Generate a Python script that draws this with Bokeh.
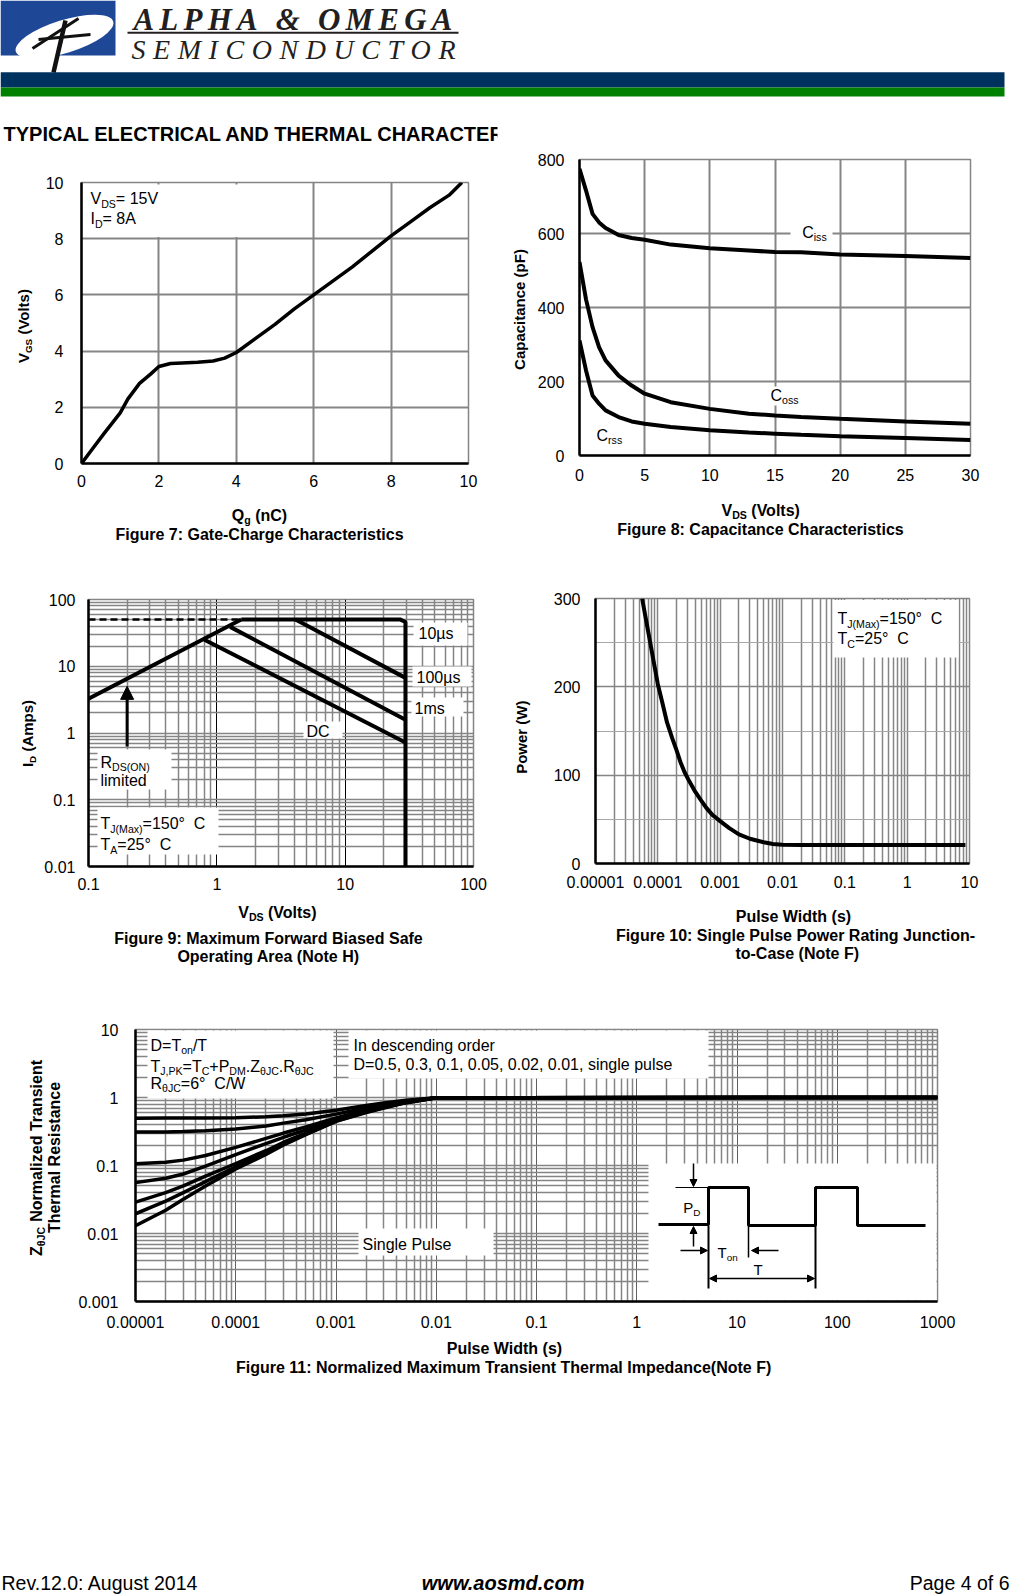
from bokeh.plotting import figure
from bokeh.layouts import column, row
from bokeh.models import (Range1d, LinearScale, Label, Arrow, NormalHead,
                          FixedTicker, CustomJSTickFormatter)
from bokeh.embed import file_html
from bokeh.resources import INLINE
from bokeh.core.properties import value

FONT = "Liberation Sans"
SERIF = "Liberation Serif"
GRID = "#858585"
BASE_CORR = 0.31   # shift between requested and drawn alphabetic baseline (em)

# ---------------- data ----------------
# Figure 7: gate charge
qg_nc = [0, 0.3, 0.6, 1.0, 1.2, 1.5, 1.8, 2.0, 2.3, 2.6, 3.0, 3.4, 3.7, 4.0,
         4.5, 5.0, 5.5, 6.0, 6.5, 7.0, 7.5, 8.0, 8.5, 9.0, 9.5, 9.83]
vgs_volts = [0, 0.55, 1.1, 1.8, 2.3, 2.85, 3.2, 3.45, 3.56, 3.58, 3.6, 3.65, 3.75, 3.95,
             4.45, 4.95, 5.5, 6.0, 6.5, 7.0, 7.55, 8.1, 8.6, 9.1, 9.55, 10.0]
fig7_xticks = [0, 2, 4, 6, 8, 10]
fig7_yticks = [0, 2, 4, 6, 8, 10]

# Figure 8: capacitance
vds_cap = [0, 0.5, 1, 1.5, 2, 3, 4, 5, 7, 10, 13, 15, 17, 20, 25, 30]
ciss_pf = [775, 716, 653, 630, 615, 596, 588, 583, 570, 560, 554, 550, 549, 543, 539, 534]
coss_pf = [523, 422, 347, 293, 257, 216, 189, 167, 144, 126, 113, 108, 104, 99, 92, 86]
crss_pf = [311, 230, 162, 140, 122, 104, 92, 86, 77, 68, 62, 59, 56, 52, 47, 42]
fig8_xticks = [0, 5, 10, 15, 20, 25, 30]
fig8_yticks = [0, 200, 400, 600, 800]

# Figure 9: safe operating area
rds_vds = [0.1, 1.55]
rds_id = [3.27, 50]
limit_vds = [1.55, 27, 29.5, 29.5]
limit_id = [50, 50, 46, 0.01]
dash_vds = [0.1, 1.55]
dash_id = [50, 50]
us10_vds = [4.1, 29.5]
us10_id = [50, 6.7]
us100_vds = [1.27, 29.5]
us100_id = [38.9, 1.58]
ms1_vds = [0.8, 29.5]
ms1_id = [25, 0.72]
arrow_vds = 0.2
arrow_id = [0.63, 5.0]
fig9_xticks = [0.1, 1, 10, 100]
fig9_yticks = [0.01, 0.1, 1, 10, 100]

# Figure 10: single pulse power
tp_s = [5.6e-5, 6.5e-5, 7.2e-5, 8.5e-5, 1e-4, 1.2e-4, 1.4e-4, 1.7e-4, 2e-4, 2.3e-4, 2.7e-4,
        3.2e-4, 4e-4, 5e-4, 6e-4, 7.5e-4, 1e-3, 1.4e-3, 2e-3, 3e-3, 5e-3, 7e-3, 1e-2, 2e-2,
        0.1, 1, 8.6]
power_w = [300, 275, 258, 230, 203, 180, 160, 142, 128, 115, 103,
           93, 81, 71, 63, 55, 48, 40, 33, 28, 24, 22, 21.2, 21,
           21, 21, 21]
fig10_xticks = [1e-5, 1e-4, 1e-3, 1e-2, 0.1, 1, 10]
fig10_yticks = [0, 100, 200, 300]
fig10_yminor = [50, 150, 250]

# Figure 11: transient thermal impedance
zth_t = [1e-5, 2e-5, 3e-5, 5e-5, 1e-4, 2e-4, 3e-4, 5e-4, 1e-3, 2e-3, 3e-3, 5e-3, 1e-2, 1e3]
zth_d05 = [0.497, 0.498, 0.499, 0.5, 0.505, 0.52, 0.54, 0.57, 0.65, 0.76, 0.83, 0.91, 0.99, 1.0]
zth_d03 = [0.31, 0.31, 0.315, 0.325, 0.345, 0.38, 0.42, 0.47, 0.57, 0.7, 0.78, 0.88, 0.99, 1.0]
zth_d01 = [0.106, 0.112, 0.12, 0.14, 0.185, 0.25, 0.3, 0.37, 0.5, 0.65, 0.74, 0.86, 0.99, 1.0]
zth_d005 = [0.056, 0.065, 0.075, 0.098, 0.145, 0.21, 0.26, 0.335, 0.48, 0.63, 0.73, 0.85, 0.99, 1.0]
zth_d002 = [0.029, 0.04, 0.05, 0.07, 0.107, 0.165, 0.22, 0.3, 0.46, 0.62, 0.72, 0.85, 0.99, 1.0]
zth_d001 = [0.0195, 0.03, 0.04, 0.058, 0.096, 0.152, 0.205, 0.29, 0.45, 0.61, 0.71, 0.84, 0.99, 1.0]
zth_single = [0.013, 0.022, 0.032, 0.05, 0.089, 0.145, 0.2, 0.285, 0.445, 0.6, 0.7, 0.84, 0.99, 1.0]
fig11_xticks = [1e-5, 1e-4, 1e-3, 1e-2, 0.1, 1, 10, 100, 1000]
fig11_yticks = [0.001, 0.01, 0.1, 1, 10]

# ---------------- font metrics (Arial-compatible, per 1000 em) ----------------
_chars = " !\"#$%&'()*+,-./0123456789:;<=>?@ABCDEFGHIJKLMNOPQRSTUVWXYZ[\\]^_`abcdefghijklmnopqrstuvwxyz{|}~"
_reg = [278, 278, 355, 556, 556, 889, 667, 191, 333, 333, 389, 584, 278, 333, 278, 278] + [556] * 10 + \
       [278, 278, 584, 584, 584, 556, 1015, 667, 667, 722, 722, 667, 611, 778, 722, 278, 500, 667, 556, 833,
        722, 778, 667, 778, 722, 667, 611, 722, 667, 944, 667, 667, 611, 278, 278, 278, 469, 556, 333,
        556, 556, 500, 556, 556, 278, 556, 556, 222, 222, 500, 222, 833, 556, 556, 556, 556, 333, 500,
        278, 556, 500, 722, 500, 500, 500, 334, 260, 334, 584]
_bold = [278, 333, 474, 556, 556, 889, 722, 238, 333, 333, 389, 584, 278, 333, 278, 278] + [556] * 10 + \
        [333, 333, 584, 584, 584, 611, 975, 722, 722, 722, 722, 667, 611, 778, 722, 278, 556, 722, 611, 833,
         722, 778, 667, 778, 722, 667, 611, 722, 667, 944, 667, 667, 611, 333, 278, 333, 584, 556, 333,
         556, 611, 556, 611, 556, 333, 611, 611, 278, 278, 556, 278, 889, 611, 611, 611, 611, 389, 556,
         333, 611, 556, 778, 556, 556, 500, 389, 280, 389, 584]
AR = dict(zip(_chars, _reg))
ARB = dict(zip(_chars, _bold))
AR.update({"\u00b0": 400, "\u03b8": 556, "\u00b5": 556, "\u00a0": 278})
ARB.update({"\u00b0": 400, "\u03b8": 611, "\u00b5": 611, "\u00a0": 278})


def tw(s, size, bold=False):
    t = ARB if bold else AR
    return sum(t.get(c, 556) for c in s) * size / 1000.0


def nb(t):
    # keep leading / trailing blanks visible in the SVG text
    if t.startswith(" "):
        t = "\u00a0" + t[1:]
    if t.endswith(" "):
        t = t[:-1] + "\u00a0"
    return t


def rich(p, x, y, parts, size=16, bold=False, italic=False, align="left",
         angle=0.0, rn="px", color="black", sub=0.66):
    items = []
    for seg in parts:
        t, k = (seg, "n") if isinstance(seg, str) else seg
        s = size * sub if k == "s" else size
        items.append((nb(t), k, s, tw(t, s, bold)))
    total = sum(i[3] for i in items)
    pos = {"left": 0.0, "center": -total / 2.0, "right": -total}[align]
    style = (("bold " if bold else "") + ("italic" if italic else "")).strip() or "normal"
    for t, k, s, w in items:
        d = (0.2 * size if k == "s" else 0.0) - BASE_CORR * s
        if angle:
            lx, ly = x + d, y - pos
        else:
            lx, ly = x + pos, y + d
        p.add_layout(Label(x=lx, y=ly, text=t, x_range_name=rn, y_range_name=rn,
                           text_font=FONT, text_font_size=f"{s:.1f}px",
                           text_font_style=style, text_color=color,
                           text_baseline="alphabetic", text_align="left", angle=angle))
        pos += w


def chart(fig_left, fig_top, fig_w, fig_h, fl, ft, fr, fb, xr, yr, xlog=False, ylog=False):
    p = figure(width=fig_w, height=fig_h, frame_width=fr - fl, frame_height=fb - ft,
               x_range=Range1d(*xr), y_range=Range1d(*yr),
               x_axis_type="log" if xlog else "linear",
               y_axis_type="log" if ylog else "linear",
               min_border_left=fl - fig_left, min_border_right=fig_left + fig_w - fr,
               min_border_top=ft - fig_top, min_border_bottom=fig_top + fig_h - fb,
               output_backend="svg", toolbar_location=None,
               background_fill_color="white", border_fill_color="white")
    p.extra_x_ranges = {"px": Range1d(fl, fr)}
    p.extra_y_ranges = {"px": Range1d(fb, ft)}
    p.extra_x_scales = {"px": LinearScale()}
    p.extra_y_scales = {"px": LinearScale()}
    p.outline_line_color = GRID
    p.outline_line_width = 1.5
    for ax in p.axis:
        ax.axis_line_color = "black"
        ax.axis_line_width = 2.5
        ax.major_tick_line_color = None
        ax.minor_tick_line_color = None
        ax.major_tick_out = 0
        ax.major_tick_in = 0
        ax.minor_tick_out = 0
        ax.minor_tick_in = 0
        ax.major_label_text_font = FONT
        ax.major_label_text_font_size = "16px"
        ax.major_label_text_color = "black"
    return p


def plain_fig(x0, y0, w, h):
    p = figure(width=w, height=h, x_range=Range1d(x0, x0 + w), y_range=Range1d(y0 + h, y0),
               x_axis_location=None, y_axis_location=None, min_border=0,
               output_backend="svg", toolbar_location=None, outline_line_color=None,
               background_fill_color="white", border_fill_color="white")
    for g in p.grid:
        g.visible = False
    return p


def set_ticks(axis, ticks, minor=None, fmt=False, standoff=10):
    axis.ticker = FixedTicker(ticks=ticks, minor_ticks=minor or [])
    if fmt:
        axis.formatter = CustomJSTickFormatter(code="return tick.toString();")
    axis.major_label_standoff = standoff


def log_minor(e0, e1):
    return [m * 10.0 ** e for e in range(e0, e1) for m in range(2, 10)]


def box(p, l, r, t, b):
    p.quad(left=[l], right=[r], top=[t], bottom=[b], x_range_name="px", y_range_name="px",
           fill_color="white", line_color=None)


def block(x0, y0, w, left_w, h_plot, h_bot, frame, xr, yr, xlog=False, ylog=False):
    tl = plain_fig(x0, y0, left_w, h_plot)
    p = chart(x0 + left_w, y0, w - left_w, h_plot, *frame, xr, yr, xlog=xlog, ylog=ylog)
    tb = plain_fig(x0, y0 + h_plot, w, h_bot)
    return tl, p, tb


def stack(tl, p, tb):
    return column(row(row(tl), row(p)), row(tb))


ROT = 1.5708

# ---------------- header ----------------
hd = plain_fig(0, 0, 1011, 145)
hd.quad(left=[0], right=[115], top=[0], bottom=[55], fill_color="#1e4796", line_color=None)
hd.ellipse(x=[64], y=[36], width=[102], height=[33], angle=[0.3], fill_color="white", line_color=None)
hd.multi_line(xs=[[32, 78], [65, 53], [38, 90]], ys=[[48, 18], [20, 72], [39, 34]],
              line_color="#111111", line_width=[3, 4.5, 3])
_tbi = {"A": 667, "L": 611, "P": 611, "H": 778, "&": 778, "O": 722, "M": 889, "E": 667, "G": 722, " ": 250}
_ti = {"S": 500, "E": 611, "M": 833, "I": 333, "C": 667, "O": 722, "N": 667, "D": 722, "U": 722, "T": 556, "R": 611}


def tracked(p, txt, table, size, x0, x1, base, style):
    nat = sum(table[c] for c in txt) * size / 1000.0
    trk = (x1 - x0 - nat) / (len(txt) - 1)
    x = x0
    for c in txt:
        if c != " ":
            p.add_layout(Label(x=x, y=base - BASE_CORR * size, text=c, text_font=SERIF,
                               text_font_size=f"{size}px",
                               text_font_style=style, text_color="#231f20",
                               text_baseline="alphabetic", text_align="left"))
        x += table[c] * size / 1000.0 + trk


tracked(hd, "ALPHA & OMEGA", _tbi, 31, 133, 452, 28.6, "bold italic")
tracked(hd, "SEMICONDUCTOR", _ti, 28, 131, 455, 57.5, "italic")
hd.line(x=[127, 458], y=[32.2, 32.2], line_width=2, line_color="#231f20")
hd.quad(left=[0], right=[1004], top=[71.7], bottom=[87], fill_color="#00325f", line_color=None)
hd.quad(left=[0], right=[1004], top=[87], bottom=[96], fill_color="#008000", line_color=None)
hd.text(x=[3], y=[139.7 - BASE_CORR * 20], text=["TYPICAL ELECTRICAL AND THERMAL CHARACTER"],
        text_font=value(FONT), text_font_size="20px", text_font_style="bold",
        text_baseline="alphabetic", text_align="left", text_color="black")
hd.quad(left=[497], right=[1011], top=[118], bottom=[145], fill_color="white", line_color=None)

# ---------------- Figure 7 ----------------
t7l, p7, t7b = block(0, 145, 490, 38, 355, 50, (81, 182, 468, 463), (0, 10), (0, 10))
set_ticks(p7.xaxis[0], fig7_xticks, standoff=11)
set_ticks(p7.yaxis[0], fig7_yticks, standoff=18)
p7.grid.grid_line_color = GRID
p7.grid.grid_line_width = 2
box(p7, 83, 300, 184, 236.5)
p7.line(qg_nc, vgs_volts, line_width=3.5, line_color="black")
rich(p7, 90, 203.3, ["V", ("DS", "s"), "= 15V"])
rich(p7, 90, 223.3, ["I", ("D", "s"), "= 8A"])
rich(t7l, 28, 325, ["V", ("GS", "s"), " (Volts)"], size=15, bold=True, align="center", angle=ROT, rn="default")
rich(t7b, 259, 520, ["Q", ("g", "s"), " (nC)"], size=16, bold=True, align="center", rn="default")
rich(t7b, 259, 539, ["Figure 7: Gate-Charge Characteristics"], size=16, bold=True, align="center", rn="default")

# ---------------- Figure 8 ----------------
t8l, p8, t8b = block(490, 145, 521, 40, 353, 52, (579, 159, 970, 455), (0, 30), (0, 800))
set_ticks(p8.xaxis[0], fig8_xticks, standoff=13)
set_ticks(p8.yaxis[0], fig8_yticks, standoff=15)
p8.grid.grid_line_color = GRID
p8.grid.grid_line_width = 2
box(p8, 790, 832, 224, 244)
box(p8, 767, 800, 386, 405)
for ys in (ciss_pf, coss_pf, crss_pf):
    p8.line(vds_cap, ys, line_width=4, line_color="black")
rich(p8, 801.7, 236.7, ["C", ("iss", "s")])
rich(p8, 770, 400, ["C", ("oss", "s")])
rich(p8, 596, 440, ["C", ("rss", "s")])
rich(t8l, 524, 309, ["Capacitance (pF)"], size=15, bold=True, align="center", angle=ROT, rn="default")
rich(t8b, 760.8, 515, ["V", ("DS", "s"), " (Volts)"], size=16, bold=True, align="center", rn="default")
rich(t8b, 760, 534, ["Figure 8: Capacitance Characteristics"], size=16, bold=True, align="center", rn="default")

# ---------------- Figure 9 ----------------
t9l, p9, t9b = block(0, 550, 490, 37, 352, 66, (88, 599, 473, 866), (0.1, 100), (0.01, 100),
                     xlog=True, ylog=True)
set_ticks(p9.xaxis[0], fig9_xticks, log_minor(-1, 2), fmt=True, standoff=11)
set_ticks(p9.yaxis[0], fig9_yticks, log_minor(-2, 2), fmt=True, standoff=13)
p9.xgrid.grid_line_color = "black"
p9.xgrid.grid_line_width = 1
p9.xgrid.minor_grid_line_color = GRID
p9.xgrid.minor_grid_line_width = 1.5
p9.ygrid.grid_line_color = GRID
p9.ygrid.grid_line_width = 1.5
p9.ygrid.minor_grid_line_color = GRID
p9.ygrid.minor_grid_line_width = 1.5
box(p9, 413, 467, 622, 645)
box(p9, 412, 471, 666, 686)
box(p9, 411, 463, 697, 716)
box(p9, 303, 342, 721, 738)
box(p9, 97, 171, 749, 789)
box(p9, 97, 218, 807, 854)
p9.line(dash_vds, dash_id, line_width=2.5, line_color="black", line_dash="7 4")
for xs, ys in ((rds_vds, rds_id), (limit_vds, limit_id), (us10_vds, us10_id),
               (us100_vds, us100_id), (ms1_vds, ms1_id)):
    p9.line(xs, ys, line_width=4, line_color="black")
p9.add_layout(Arrow(end=NormalHead(size=13, fill_color="black", line_color="black"),
                    x_start=arrow_vds, y_start=arrow_id[0], x_end=arrow_vds, y_end=arrow_id[1],
                    line_width=3, line_color="black"))
rich(p9, 418, 638, ["10\u00b5s"])
rich(p9, 416, 681.7, ["100\u00b5s"])
rich(p9, 414, 712.7, ["1ms"])
rich(p9, 306, 735.7, ["DC"])
rich(p9, 100, 766.7, ["R", ("DS(ON)", "s")])
rich(p9, 100, 785, ["limited"])
rich(p9, 100, 828.3, ["T", ("J(Max)", "s"), "=150\u00b0\u00a0 C"])
rich(p9, 100, 849.3, ["T", ("A", "s"), "=25\u00b0\u00a0 C"])
rich(t9l, 32, 733, ["I", ("D", "s"), " (Amps)"], size=15, bold=True, align="center", angle=ROT, rn="default")
rich(t9b, 277.5, 916.7, ["V", ("DS", "s"), " (Volts)"], size=16, bold=True, align="center", rn="default")
rich(t9b, 268, 942.7, ["Figure 9: Maximum Forward Biased Safe"], size=16, bold=True, align="center",
     rn="default")
rich(t9b, 268, 961, ["Operating Area (Note H)"], size=16, bold=True, align="center", rn="default")

# ---------------- Figure 10 ----------------
t10l, p10, t10b = block(490, 550, 521, 50, 352, 66, (595, 598, 969, 863), (1e-5, 10), (0, 300),
                        xlog=True)
set_ticks(p10.xaxis[0], fig10_xticks, log_minor(-5, 1), fmt=True, standoff=12)
set_ticks(p10.yaxis[0], fig10_yticks, fig10_yminor, standoff=15)
p10.xgrid.grid_line_color = GRID
p10.xgrid.grid_line_width = 1.5
p10.xgrid.minor_grid_line_color = GRID
p10.xgrid.minor_grid_line_width = 1.5
p10.ygrid.grid_line_color = GRID
p10.ygrid.grid_line_width = 1.5
p10.ygrid.minor_grid_line_color = "#a8a8a8"
p10.ygrid.minor_grid_line_width = 1
box(p10, 833, 958, 599.5, 657)
p10.line(tp_s, power_w, line_width=4, line_color="black")
rich(p10, 837, 623.3, ["T", ("J(Max)", "s"), "=150\u00b0\u00a0 C"])
rich(p10, 837, 643.3, ["T", ("C", "s"), "=25\u00b0\u00a0 C"])
rich(t10l, 526, 736.7, ["Power (W)"], size=15, bold=True, align="center", angle=ROT, rn="default")
rich(t10b, 793, 920.7, ["Pulse Width (s)"], size=16, bold=True, align="center", rn="default")
rich(t10b, 795, 940, ["Figure 10: Single Pulse Power Rating Junction-"], size=16, bold=True,
     align="center", rn="default")
rich(t10b, 796.7, 958.3, ["to-Case (Note F)"], size=16, bold=True, align="center", rn="default")

# ---------------- Figure 11 ----------------
t11l, p11, t11b = block(0, 968, 1011, 66, 370, 42, (135, 1029, 937, 1301), (1e-5, 1e3), (1e-3, 10),
                        xlog=True, ylog=True)
set_ticks(p11.xaxis[0], fig11_xticks, log_minor(-5, 3), fmt=True, standoff=14)
set_ticks(p11.yaxis[0], fig11_yticks, log_minor(-3, 1), fmt=True, standoff=17)
p11.xgrid.grid_line_color = "#606060"
p11.xgrid.grid_line_width = 1
p11.xgrid.minor_grid_line_color = GRID
p11.xgrid.minor_grid_line_width = 1.5
p11.ygrid.grid_line_color = GRID
p11.ygrid.grid_line_width = 1.5
p11.ygrid.minor_grid_line_color = GRID
p11.ygrid.minor_grid_line_width = 1.3
box(p11, 147, 333, 1030, 1098)
box(p11, 348, 708, 1030, 1078)
box(p11, 358, 493, 1228, 1255)
box(p11, 648, 936, 1163, 1300)
for ys in (zth_d05, zth_d03, zth_d01, zth_d005, zth_d002, zth_d001, zth_single):
    p11.line(zth_t, ys, line_width=3.5, line_color="black")
rich(p11, 150, 1050, ["D=T", ("on", "s"), "/T"])
rich(p11, 150, 1071, ["T", ("J,PK", "s"), "=T", ("C", "s"), "+P", ("DM", "s"), ".Z", ("\u03b8JC", "s"),
                      ".R", ("\u03b8JC", "s")])
rich(p11, 150, 1087.7, ["R", ("\u03b8JC", "s"), "=6\u00b0\u00a0 C/W"])
rich(p11, 353, 1050, ["In descending order"])
rich(p11, 353, 1069, ["D=0.5, 0.3, 0.1, 0.05, 0.02, 0.01, single pulse"])
rich(p11, 362, 1249, ["Single Pulse"])
# pulse-train inset diagram (page-pixel coordinates)
pulse_x = [658, 708, 708, 748, 748, 815, 815, 857, 857, 925]
pulse_y = [1224, 1224, 1187, 1187, 1225, 1225, 1187, 1187, 1225, 1225]
p11.line(pulse_x, pulse_y, x_range_name="px", y_range_name="px", line_width=3, line_color="black")
p11.multi_line(xs=[[675, 708], [708, 708], [748, 748], [815, 815]],
               ys=[[1187, 1187], [1225, 1288], [1225, 1257], [1225, 1288]],
               x_range_name="px", y_range_name="px", line_color="black", line_width=[1, 2, 1.5, 2])


def px_arrow(p, x0, y0, x1, y1, both=False):
    p.add_layout(Arrow(end=NormalHead(size=7, fill_color="black", line_color="black"),
                       start=NormalHead(size=7, fill_color="black", line_color="black") if both else None,
                       x_start=x0, y_start=y0, x_end=x1, y_end=y1, line_width=1.5, line_color="black",
                       x_range_name="px", y_range_name="px"))


px_arrow(p11, 693, 1163, 693, 1186)
px_arrow(p11, 693, 1246, 693, 1226)
px_arrow(p11, 680, 1250, 707, 1250)
px_arrow(p11, 778, 1250, 751, 1250)
px_arrow(p11, 709, 1278, 814, 1278, both=True)
rich(p11, 682.7, 1211.7, ["P", ("D", "s")], size=15)
rich(p11, 717, 1256.7, ["T", ("on", "s")], size=15)
rich(p11, 753, 1274, ["T"], size=15)
rich(t11l, 40.5, 1157, ["Z", ("\u03b8JC", "s"), " Normalized Transient"], size=16, bold=True,
     align="center", angle=ROT, rn="default")
rich(t11l, 59, 1157, ["Thermal Resistance"], size=16, bold=True, align="center", angle=ROT, rn="default")
rich(t11b, 504, 1353, ["Pulse Width (s)"], size=16, bold=True, align="center", rn="default")
rich(t11b, 504, 1372, ["Figure 11: Normalized Maximum Transient Thermal Impedance(Note F)"], size=16,
     bold=True, align="center", rn="default")

# ---------------- footer ----------------
ftr = plain_fig(0, 1380, 1011, 214)
rich(ftr, 1, 1589, ["Rev.12.0: August 2014"], size=19.5, rn="default")
rich(ftr, 503, 1589, ["www.aosmd.com"], size=20, bold=True, italic=True, align="center", rn="default")
rich(ftr, 1009, 1589, ["Page 4 of 6"], size=19.5, align="right", rn="default")

page = column(
    row(hd),
    row(stack(t7l, p7, t7b), stack(t8l, p8, t8b)),
    row(stack(t9l, p9, t9b), stack(t10l, p10, t10b)),
    stack(t11l, p11, t11b),
    row(ftr),
)
open("out.html", "w").write(file_html(page, INLINE))
